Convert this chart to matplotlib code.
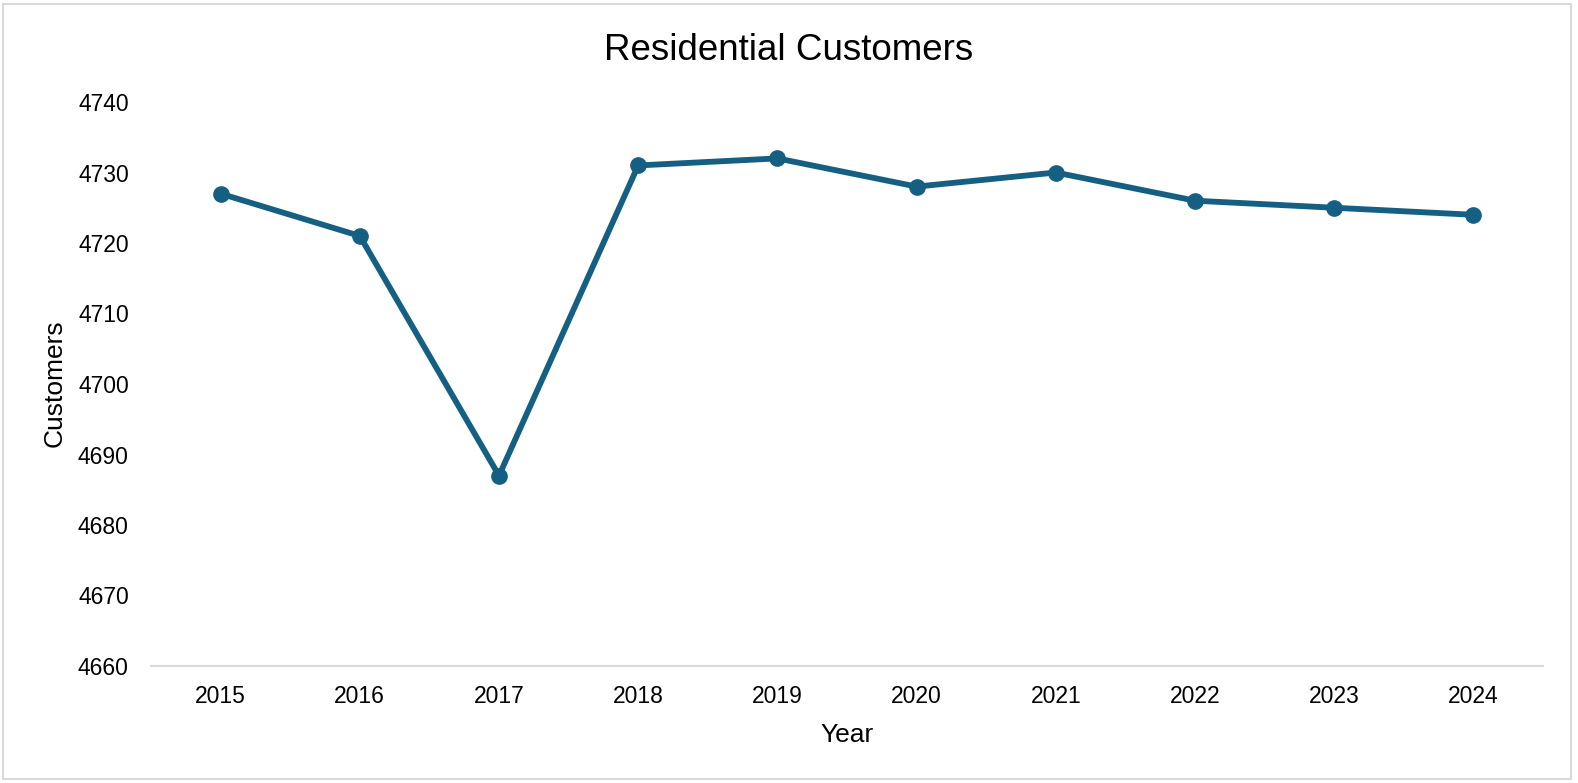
import matplotlib
matplotlib.use("Agg")
import matplotlib.pyplot as plt
import matplotlib.patches as patches

years = ["2015", "2016", "2017", "2018", "2019", "2020", "2021", "2022", "2023", "2024"]
customers = [4727, 4721, 4687, 4731, 4732, 4728, 4730, 4726, 4725, 4724]
yticks = [4660, 4670, 4680, 4690, 4700, 4710, 4720, 4730, 4740]

plt.rcParams['font.family'] = ['Liberation Sans', 'DejaVu Sans']
W, H = 1578, 783
fig = plt.figure(figsize=(W / 100, H / 100), dpi=100)
ax = fig.add_axes([151 / W, 1 - 666 / H, (1543 - 151) / W, (666 - 102) / H])

x = list(range(len(years)))
ax.plot(x, customers, color="#156082", linewidth=4.2, marker="o", markersize=11,
        solid_capstyle="round", zorder=3)

ax.set_xlim(-0.5, len(years) - 0.5)
ax.set_ylim(yticks[0], yticks[-1])
ax.set_xticks(x)
ax.set_xticklabels(years)
ax.set_yticks(yticks)
ax.tick_params(axis="both", length=0, labelsize=16.5, colors="#000000")
ax.tick_params(axis="x", pad=14)
ax.tick_params(axis="y", pad=16)
for s in ["top", "right", "left"]:
    ax.spines[s].set_visible(False)
ax.spines["bottom"].set_color("#d9d9d9")
ax.spines["bottom"].set_linewidth(1.5)

fig.text(0.5, 1 - 51 / H, "Residential Customers", ha="center", va="center", fontsize=26.5)
fig.text((151 + 1543) / 2 / W, 1 - 735 / H, "Year", ha="center", va="center", fontsize=19)
fig.text(55 / W, 1 - 383 / H, "Customers", ha="center", va="center", rotation=90, fontsize=19)

# chart border
fig.patches.append(patches.Rectangle((3 / W, 4 / H), (1571 - 3) / W, (779 - 4) / H,
                                     transform=fig.transFigure, fill=False,
                                     edgecolor="#d9d9d9", linewidth=1.5))

fig.savefig("out.png", dpi=100)
